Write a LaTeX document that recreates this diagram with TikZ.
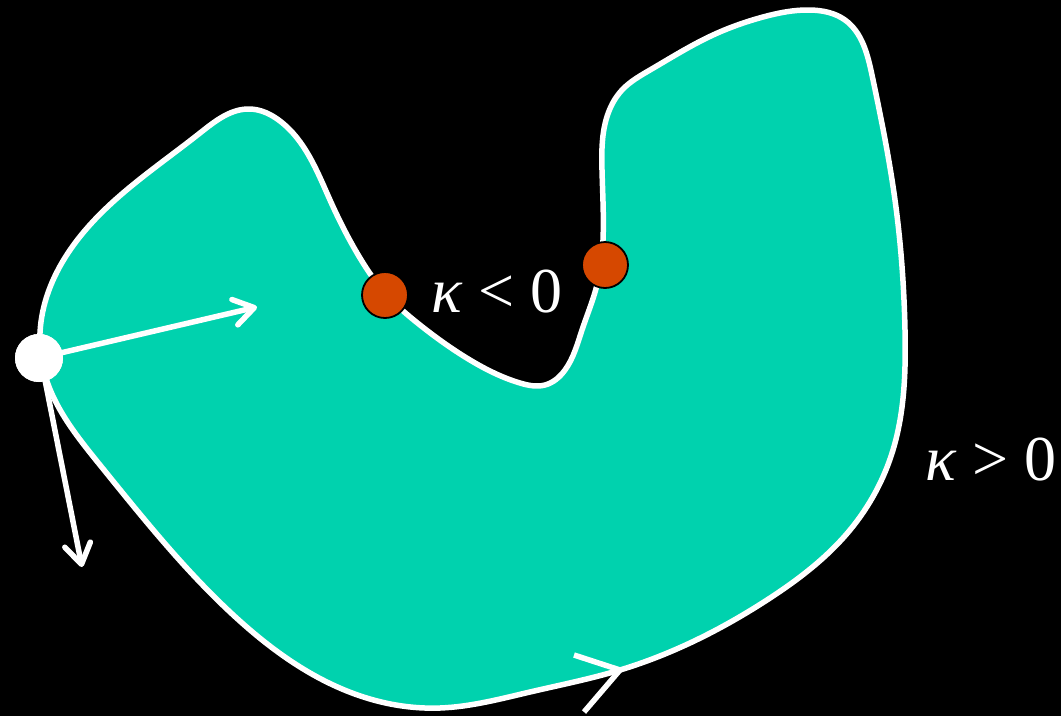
\documentclass[tikz,border=0pt]{standalone}
\usepackage{fontspec}
\setmainfont{Liberation Serif}
\usetikzlibrary{arrows.meta,hobby}
\definecolor{teal}{HTML}{00D2AE}
\definecolor{dotred}{HTML}{D64800}
\begin{document}
\begin{tikzpicture}[x=1pt,y=-1pt,
  outline/.style={draw=white,line width=5.5pt,fill=teal},
  vec/.style={draw=white,line width=5.5pt,line cap=round,
    -{Straight Barb[length=20pt,width=26pt,round]}},
  pointdot/.style={circle,fill=white,minimum size=48pt,inner sep=0pt},
  reddot/.style={circle,fill=dotred,draw=black,line width=1.8pt,minimum size=46pt,inner sep=0pt},
  lab/.style={text=white,inner sep=0pt,anchor=base west,font=\fontsize{64}{70}\selectfont}]
\fill[black] (0,0) rectangle (1061,716);
\useasboundingbox (0,0) rectangle (1061,716);
\draw[outline] plot[closed hobby] coordinates {
 (40,333) (68,253) (200,133) (250,109) (280,121)
 (330,200) (360,258) (385,293) (420,325) (470,360) (520,383)
 (545,385) (565,370) (582,330) (597,285) (603,240) (602,170) (606,120)
 (622,90) (650,70) (713,35) (763,17) (810,10) (845,20) (872,75)
 (895,200) (905,330) (893,450) (850,530) (767,600) (620,670)
 (530,692) (440,708) (370,699) (230,612) (100,465) (45,375)};
\coordinate (tipA) at (257,307);
\coordinate (tipB) at (82,567);
\node[pointdot] (p) at (39,358) {};
\draw[vec] (p) -- (tipA);
\draw[vec] (p.-75) -- (tipB);
\node[pointdot] at (39,358) {};
\coordinate (chtip) at (620,670);
\coordinate (charm1) at (574,655);
\coordinate (charm2) at (584,712);
\draw[white,line width=5.5pt,line join=miter] (charm1) -- (chtip) -- (charm2);
\node[reddot] (r1) at (385,295) {};
\node[reddot] (r2) at (605,265) {};
\node[lab] (neg) at (431,312) {\textit{κ} < 0};
\node[lab] (pos) at (925,480) {\textit{κ} > 0};
\end{tikzpicture}
\end{document}
